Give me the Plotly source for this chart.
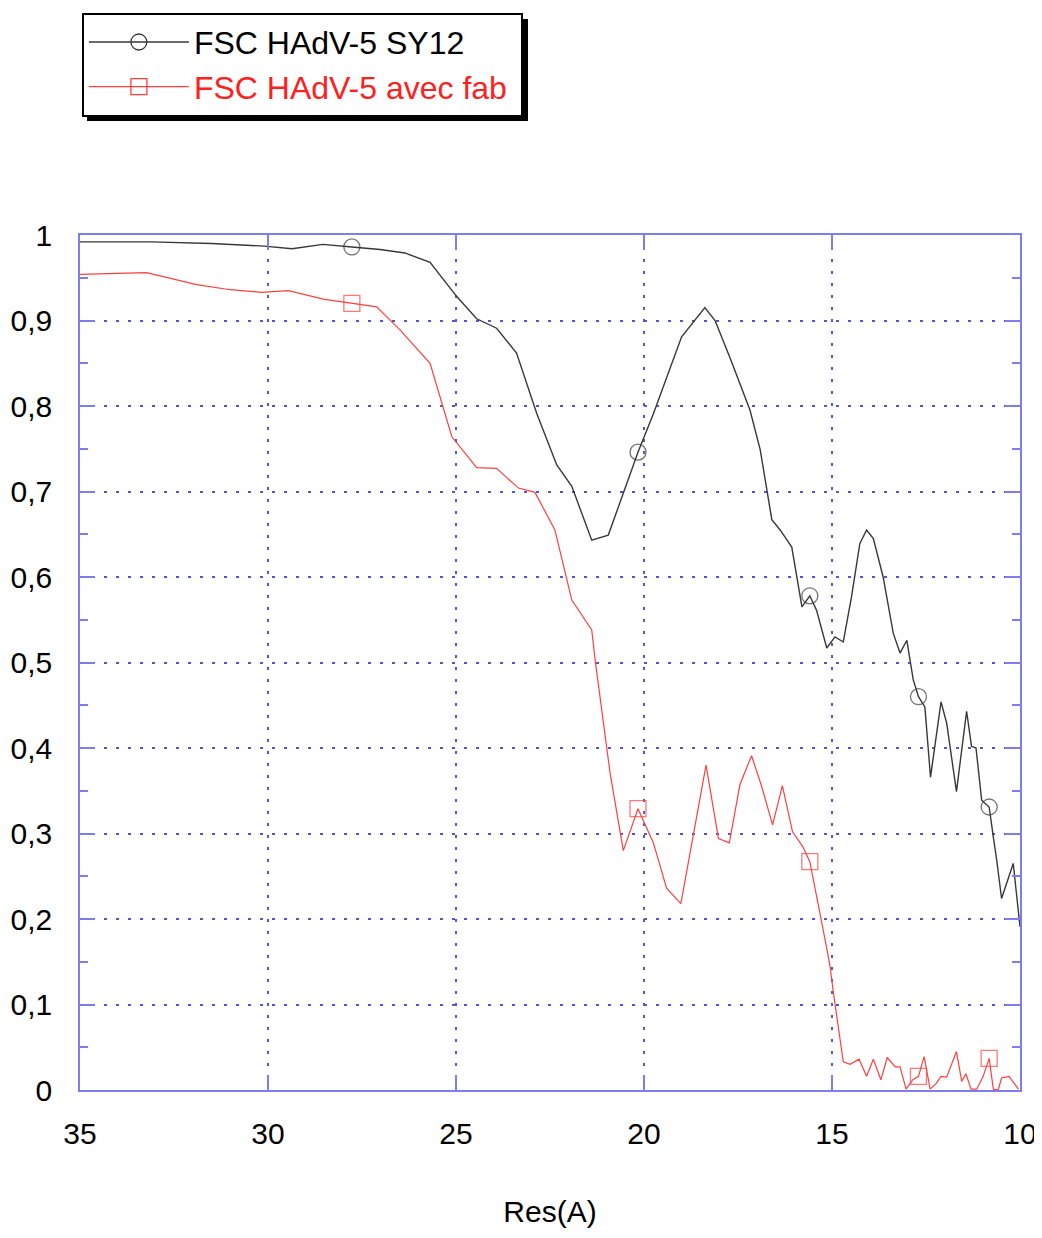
import plotly.graph_objects as go

# FSC HAdV-5 SY12 (noir)
sy12_res = [35.0, 33.1, 31.5, 30.1, 29.36, 28.54, 27.77, 27.02, 26.36, 25.69,
            24.98, 24.45, 23.92, 23.39, 22.85, 22.32, 21.92, 21.39, 20.95, 20.16,
            19.75, 19.40, 19.00, 18.38, 18.11, 17.70, 17.18, 16.91, 16.60, 16.38,
            16.07, 15.80, 15.59, 15.41, 15.14, 14.92, 14.70, 14.48, 14.26, 14.08,
            13.90, 13.64, 13.37, 13.19, 13.01, 12.84, 12.70, 12.53, 12.38, 12.10,
            11.95, 11.69, 11.42, 11.29, 11.17, 11.02, 10.82, 10.71, 10.62, 10.49,
            10.18, 10.0]
sy12_fsc = [0.992, 0.992, 0.990, 0.987, 0.984, 0.989, 0.986, 0.983, 0.979, 0.968,
            0.928, 0.902, 0.891, 0.862, 0.791, 0.731, 0.706, 0.643, 0.649, 0.746,
            0.791, 0.834, 0.881, 0.915, 0.900, 0.855, 0.795, 0.749, 0.667, 0.655,
            0.635, 0.565, 0.578, 0.561, 0.517, 0.530, 0.524, 0.577, 0.639, 0.655,
            0.645, 0.600, 0.534, 0.511, 0.526, 0.480, 0.460, 0.448, 0.366, 0.454,
            0.429, 0.349, 0.443, 0.402, 0.400, 0.339, 0.331, 0.296, 0.269, 0.224,
            0.265, 0.191]

# FSC HAdV-5 avec fab (rouge)
fab_res = [35.0, 33.23, 31.9, 31.0, 30.17, 29.46, 28.53, 27.77, 27.11, 26.49,
           25.69, 25.11, 24.45, 23.92, 23.34, 22.90, 22.37, 21.92, 21.39, 21.30,
           20.90, 20.55, 20.16, 19.75, 19.40, 19.02, 18.69, 18.35, 18.02, 17.73,
           17.45, 17.14, 16.87, 16.58, 16.32, 16.05, 15.78, 15.59, 15.14, 15.05,
           14.96, 14.70, 14.52, 14.28, 14.08, 13.90, 13.70, 13.53, 13.32, 13.19,
           13.03, 12.85, 12.70, 12.55, 12.39, 12.22, 12.10, 11.95, 11.69, 11.55,
           11.44, 11.30, 11.15, 10.98, 10.82, 10.71, 10.58, 10.49, 10.29, 10.04]
fab_fsc = [0.954, 0.956, 0.942, 0.936, 0.933, 0.935, 0.925, 0.920, 0.916, 0.889,
           0.850, 0.764, 0.728, 0.727, 0.704, 0.699, 0.655, 0.573, 0.538, 0.503,
           0.370, 0.280, 0.329, 0.289, 0.236, 0.218, 0.300, 0.380, 0.294, 0.289,
           0.357, 0.391, 0.355, 0.310, 0.356, 0.302, 0.285, 0.267, 0.166, 0.144,
           0.113, 0.033, 0.030, 0.036, 0.016, 0.036, 0.012, 0.038, 0.027, 0.027,
           0.001, 0.012, 0.016, 0.039, 0.001, 0.008, 0.016, 0.015, 0.045, 0.010,
           0.019, 0.001, 0.001, 0.016, 0.037, 0.001, 0.000, 0.014, 0.016, 0.001]

# points qui portent un symbole
mark_res = [27.77, 20.16, 15.59, 12.70, 10.82]

x_ticks = [35, 30, 25, 20, 15, 10]

BLACK = "#383838"
RED = "#ff4040"
AXIS_COLOR = "rgb(125,125,235)"
GRID_COLOR = "rgb(85,85,210)"
FONT = "Liberation Sans, Arial, sans-serif"
MARK_SIZE = 16


def marker_sizes(res):
    return [MARK_SIZE if r in mark_res else 0 for r in res]


fig = go.Figure()

# courbes (symboles seulement sur certains points)
fig.add_trace(go.Scatter(
    x=sy12_res, y=sy12_fsc,
    mode="lines+markers", showlegend=False,
    line=dict(color=BLACK, width=1.4),
    marker=dict(symbol="circle-open", size=marker_sizes(sy12_res),
                color=BLACK, line=dict(width=1.3)),
))
fig.add_trace(go.Scatter(
    x=fab_res, y=fab_fsc,
    mode="lines+markers", showlegend=False,
    line=dict(color=RED, width=1.2),
    marker=dict(symbol="square-open", size=marker_sizes(fab_res),
                color=RED, line=dict(width=1.3)),
))

# entrées de légende
fig.add_trace(go.Scatter(
    x=[None], y=[None], mode="lines+markers",
    name="FSC HAdV-5 SY12",
    line=dict(color=BLACK, width=1.3),
    marker=dict(symbol="circle-open", size=MARK_SIZE, color=BLACK, line=dict(width=1.3)),
))
fig.add_trace(go.Scatter(
    x=[None], y=[None], mode="lines+markers",
    name="<span style='color:#ff2020'>FSC HAdV-5 avec fab\u00a0</span>",
    line=dict(color=RED, width=1.2),
    marker=dict(symbol="square-open", size=MARK_SIZE, color=RED, line=dict(width=1.3)),
))

# ombre de la légende
fig.add_shape(
    type="rect", xref="paper", yref="paper",
    x0=0.0075, x1=0.4766, y0=1.1333, y1=1.2526,
    fillcolor="black", line=dict(width=0),
)

axis_common = dict(
    showline=True, linecolor=AXIS_COLOR, linewidth=1.5, mirror="ticks",
    ticks="inside", ticklen=15, tickcolor=AXIS_COLOR, tickwidth=1.5,
    showgrid=True, gridcolor=GRID_COLOR, gridwidth=1.5, griddash="3px,9px",
    zeroline=False, automargin=False, ticklabeloverflow="allow",
    tickfont=dict(family=FONT, size=30, color="black"),
)

# la page ajoute une marge de 8 px autour de la figure
fig.update_layout(
    width=1034,
    height=1222,
    margin=dict(l=72, r=22, t=227, b=140, autoexpand=False),
    paper_bgcolor="white",
    plot_bgcolor="white",
    separators=", ",
    font=dict(family=FONT, color="black"),
    showlegend=True,
    legend=dict(
        x=0.002, y=1.26, xanchor="left", yanchor="top",
        bgcolor="white", bordercolor="black", borderwidth=2,
        font=dict(family=FONT, size=32, color="black"),
        itemwidth=100,
    ),
    xaxis=dict(
        range=[35, 10],
        tickvals=x_ticks,
        ticklabelstandoff=16,
        title=dict(text="Res(A)", font=dict(family=FONT, size=30), standoff=52),
        **axis_common,
    ),
    yaxis=dict(
        range=[0, 1],
        dtick=0.1,
        ticklabelstandoff=20,
        minor=dict(dtick=0.05, ticks="inside", ticklen=8,
                   tickcolor=AXIS_COLOR, tickwidth=1.5, showgrid=False),
        **axis_common,
    ),
)

fig.write_html("out.html")
